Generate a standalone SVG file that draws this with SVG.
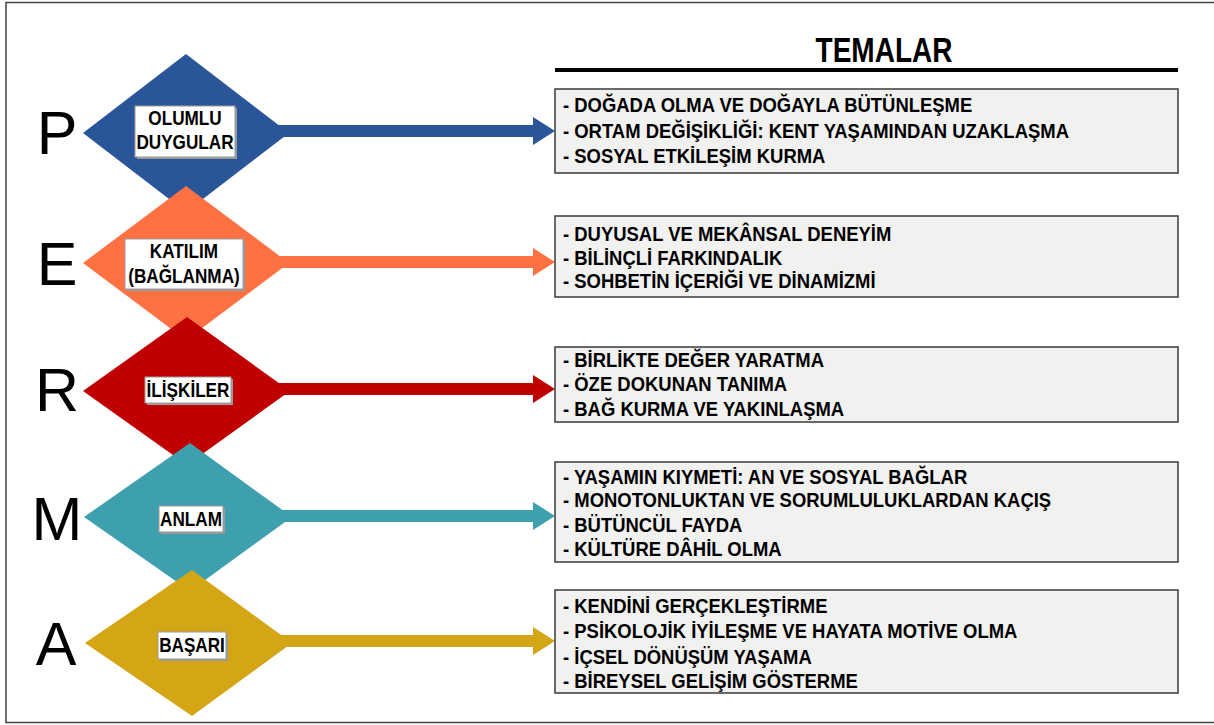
<svg xmlns="http://www.w3.org/2000/svg" width="1214" height="725" viewBox="0 0 1214 725">
<style>
.frame{fill:#fff;stroke:#444;stroke-width:1.5}
.letter{font-family:"Liberation Sans",Arial,sans-serif;font-size:61px;fill:#000;text-anchor:middle}
.lbl{fill:#fff;stroke:#999;stroke-width:1}
.shadow{fill:#9a9a9a}
.lt{font-family:"Liberation Sans",Arial,sans-serif;font-weight:bold;font-size:19.5px;fill:#000;text-anchor:middle}
.box{fill:#f1f1f0;stroke:#3a3a3a;stroke-width:1.5}
.bt{font-family:"Liberation Sans",Arial,sans-serif;font-weight:bold;font-size:20.5px;fill:#000}
.title{font-family:"Liberation Sans",Arial,sans-serif;font-weight:bold;font-size:35px;fill:#000;text-anchor:middle}
</style>
<rect class="frame" x="6" y="2.5" width="1220" height="720"/>
<text class="title" transform="translate(884,62) scale(0.8,1)">TEMALAR</text>
<rect x="555" y="68" width="623" height="4" fill="#000"/>

<g id="connectors">
<polygon fill="#2A5699" points="270,125 533,125 533,117 555,131 533,145 533,137 270,137"/>
<polygon fill="#FF7143" points="270,256 533,256 533,248 555,262 533,276 533,268 270,268"/>
<polygon fill="#C00000" points="270,383 533,383 533,375 555,389 533,403 533,395 270,395"/>
<polygon fill="#3E9FAE" points="270,510 533,510 533,502 555,516 533,530 533,522 270,522"/>
<polygon fill="#D4A514" points="270,635 533,635 533,627 555,641 533,655 533,647 270,647"/>
</g>

<g id="node-P">
<polygon fill="#2A5699" points="186,54 289,133 186,212 83,133"/>
<text class="letter" x="57" y="154">P</text>
<rect class="shadow" x="137" y="108" width="100" height="51"/>
<rect class="lbl" x="135" y="106" width="100" height="51"/>
<text class="lt" transform="translate(185,125) scale(0.88,1)">OLUMLU</text>
<text class="lt" transform="translate(185,149) scale(0.88,1)">DUYGULAR</text>
</g>

<g id="node-E">
<polygon fill="#FF7143" points="186,186 289,263 186,340 83,263"/>
<text class="letter" x="57" y="285">E</text>
<rect class="shadow" x="127" y="241" width="118" height="50"/>
<rect class="lbl" x="125" y="239" width="118" height="50"/>
<text class="lt" transform="translate(184,258) scale(0.88,1)">KATILIM</text>
<text class="lt" transform="translate(184,283) scale(0.88,1)">(BAĞLANMA)</text>
</g>

<g id="node-R">
<polygon fill="#C00000" points="187,317 290,391 187,465 83,391"/>
<text class="letter" x="57" y="411">R</text>
<rect class="shadow" x="147" y="379" width="86" height="26"/>
<rect class="lbl" x="145" y="377" width="86" height="26"/>
<text class="lt" transform="translate(188,397) scale(0.88,1)">İLİŞKİLER</text>
</g>

<g id="node-M">
<polygon fill="#3E9FAE" points="190,443 292,517 190,591 84,517"/>
<text class="letter" x="57" y="540">M</text>
<rect class="shadow" x="161" y="508" width="64" height="26"/>
<rect class="lbl" x="159" y="506" width="64" height="26"/>
<text class="lt" transform="translate(191,526) scale(0.88,1)">ANLAM</text>
</g>

<g id="node-A">
<polygon fill="#D4A514" points="192,570 292,643 192,716 85,643"/>
<text class="letter" x="56" y="665">A</text>
<rect class="shadow" x="160" y="634" width="68" height="27"/>
<rect class="lbl" x="158" y="632" width="68" height="27"/>
<text class="lt" transform="translate(192,652) scale(0.88,1)">BAŞARI</text>
</g>

<g id="themes-P">
<rect class="box" x="555" y="89" width="623" height="84"/>
<g transform="translate(563,0) scale(0.9,1)">
<text class="bt" x="0" y="112">- DOĞADA OLMA VE DOĞAYLA BÜTÜNLEŞME</text>
<text class="bt" x="0" y="138">- ORTAM DEĞİŞİKLİĞİ: KENT YAŞAMINDAN UZAKLAŞMA</text>
<text class="bt" x="0" y="163">- SOSYAL ETKİLEŞİM KURMA</text>
</g>
</g>
<g id="themes-E">
<rect class="box" x="555" y="216" width="623" height="81"/>
<g transform="translate(563,0) scale(0.9,1)">
<text class="bt" x="0" y="241">- DUYUSAL VE MEKÂNSAL DENEYİM</text>
<text class="bt" x="0" y="265">- BİLİNÇLİ FARKINDALIK</text>
<text class="bt" x="0" y="288">- SOHBETİN İÇERİĞİ VE DİNAMİZMİ</text>
</g>
</g>
<g id="themes-R">
<rect class="box" x="555" y="347" width="623" height="75"/>
<g transform="translate(563,0) scale(0.9,1)">
<text class="bt" x="0" y="367">- BİRLİKTE DEĞER YARATMA</text>
<text class="bt" x="0" y="391">- ÖZE DOKUNAN TANIMA</text>
<text class="bt" x="0" y="416">- BAĞ KURMA VE YAKINLAŞMA</text>
</g>
</g>
<g id="themes-M">
<rect class="box" x="555" y="462" width="623" height="100"/>
<g transform="translate(563,0) scale(0.9,1)">
<text class="bt" x="0" y="484">- YAŞAMIN KIYMETİ: AN VE SOSYAL BAĞLAR</text>
<text class="bt" x="0" y="507">- MONOTONLUKTAN VE SORUMLULUKLARDAN KAÇIŞ</text>
<text class="bt" x="0" y="532">- BÜTÜNCÜL FAYDA</text>
<text class="bt" x="0" y="556">- KÜLTÜRE DÂHİL OLMA</text>
</g>
</g>
<g id="themes-A">
<rect class="box" x="555" y="590" width="623" height="103"/>
<g transform="translate(563,0) scale(0.9,1)">
<text class="bt" x="0" y="613">- KENDİNİ GERÇEKLEŞTİRME</text>
<text class="bt" x="0" y="638">- PSİKOLOJİK İYİLEŞME VE HAYATA MOTİVE OLMA</text>
<text class="bt" x="0" y="664">- İÇSEL DÖNÜŞÜM YAŞAMA</text>
<text class="bt" x="0" y="688">- BİREYSEL GELİŞİM GÖSTERME</text>
</g>
</g>
</svg>
